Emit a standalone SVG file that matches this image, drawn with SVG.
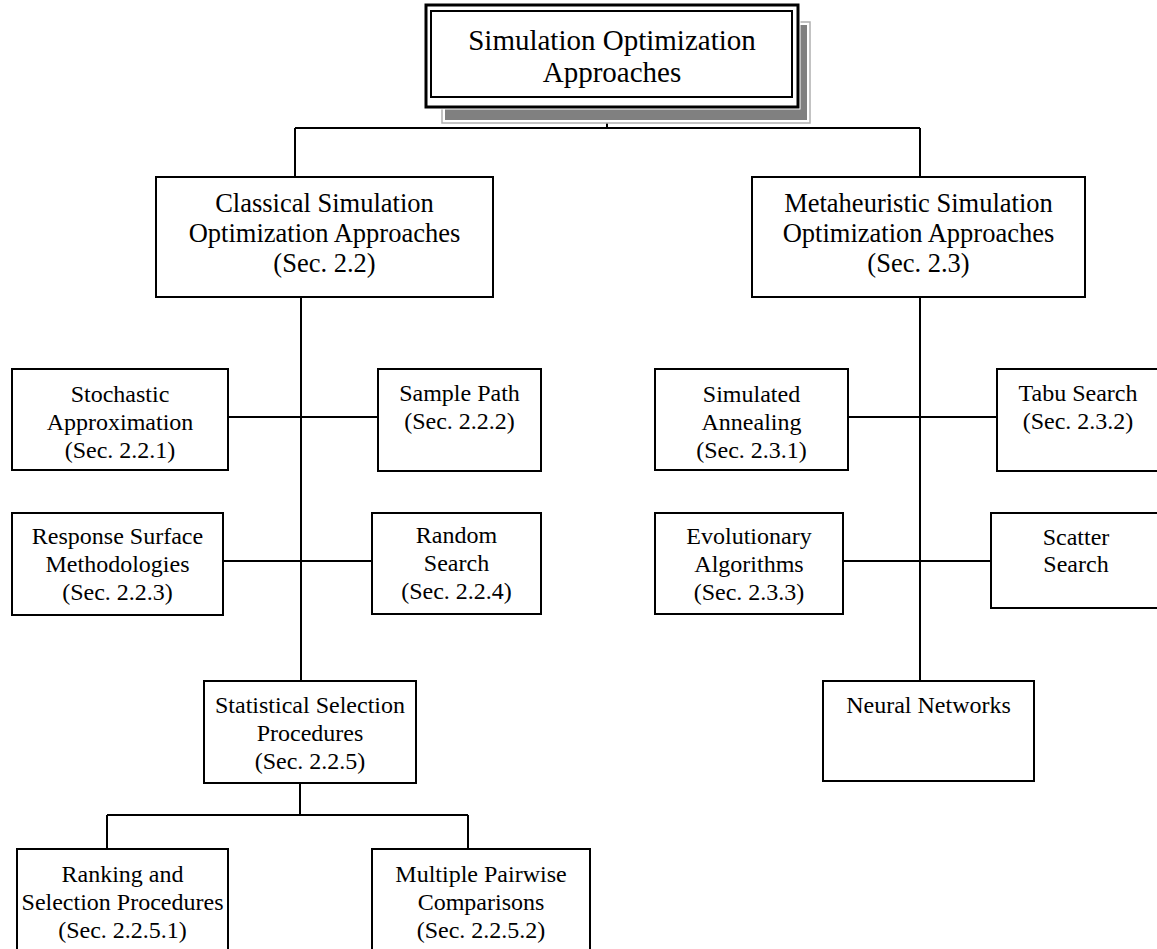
<svg xmlns="http://www.w3.org/2000/svg" width="1157" height="949" viewBox="0 0 1157 949">
<style>
.box{fill:#fff;stroke:#000;stroke-width:2}
.t{font-family:"Liberation Serif","Times New Roman",serif;font-size:24px;fill:#000;text-anchor:middle}
.tm{font-size:26.5px}
.tt{font-size:29px}
.c{stroke:#000;stroke-width:2;fill:none}
</style>
<rect width="1157" height="949" fill="#fff"/>
<g id="connectors">
<path class="c" d="M607,107V128M295,128H920M295,128V177M920,128V177"/>
<path class="c" d="M301,297V681M228,417H378M223,561H372"/>
<path class="c" d="M300,783V815M107,815H468M107,815V849M468,815V849"/>
<path class="c" d="M920,297V681M848,417H997M843,561H991"/>
</g>
<g id="title">
<rect x="442" y="22" width="368" height="101" fill="#fff" stroke="#b0b0b0" stroke-width="1.5"/>
<rect x="445" y="25" width="362" height="95" fill="#808080"/>
<rect x="426" y="5" width="372" height="102" fill="#fff" stroke="#fff" stroke-width="5"/>
<rect x="426" y="5" width="372" height="102" fill="#fff" stroke="#000" stroke-width="3"/>
<rect x="431" y="11" width="361" height="86" fill="none" stroke="#000" stroke-width="2"/>
<text class="t tt" x="612" y="50">Simulation Optimization</text>
<text class="t tt" x="612" y="82">Approaches</text>
</g>
<g id="classical">
<rect class="box" x="156" y="177" width="337" height="120"/>
<text class="t tm" x="324.5" y="212">Classical Simulation</text>
<text class="t tm" x="324.5" y="242">Optimization Approaches</text>
<text class="t tm" x="324.5" y="272">(Sec. 2.2)</text>
</g>
<g id="metaheuristic">
<rect class="box" x="752" y="177" width="333" height="120"/>
<text class="t tm" x="918.5" y="212">Metaheuristic Simulation</text>
<text class="t tm" x="918.5" y="242">Optimization Approaches</text>
<text class="t tm" x="918.5" y="272">(Sec. 2.3)</text>
</g>
<g id="stochastic">
<rect class="box" x="12" y="369" width="216" height="101"/>
<text class="t" x="120" y="402">Stochastic</text>
<text class="t" x="120" y="430">Approximation</text>
<text class="t" x="120" y="458">(Sec. 2.2.1)</text>
</g>
<g id="samplepath">
<rect class="box" x="378" y="369" width="163" height="102"/>
<text class="t" x="459.5" y="401">Sample Path</text>
<text class="t" x="459.5" y="429">(Sec. 2.2.2)</text>
</g>
<g id="rsm">
<rect class="box" x="12" y="513" width="211" height="102"/>
<text class="t" x="117.5" y="544">Response Surface</text>
<text class="t" x="117.5" y="572">Methodologies</text>
<text class="t" x="117.5" y="600">(Sec. 2.2.3)</text>
</g>
<g id="randomsearch">
<rect class="box" x="372" y="513" width="169" height="101"/>
<text class="t" x="456.5" y="543">Random</text>
<text class="t" x="456.5" y="571">Search</text>
<text class="t" x="456.5" y="599">(Sec. 2.2.4)</text>
</g>
<g id="statistical">
<rect class="box" x="204" y="681" width="212" height="102"/>
<text class="t" x="310" y="713">Statistical Selection</text>
<text class="t" x="310" y="741">Procedures</text>
<text class="t" x="310" y="769">(Sec. 2.2.5)</text>
</g>
<g id="ranking">
<rect class="box" x="17" y="849" width="211" height="110"/>
<text class="t" x="122.5" y="882">Ranking and</text>
<text class="t" x="122.5" y="910">Selection Procedures</text>
<text class="t" x="122.5" y="938">(Sec. 2.2.5.1)</text>
</g>
<g id="pairwise">
<rect class="box" x="372" y="849" width="218" height="110"/>
<text class="t" x="481" y="882">Multiple Pairwise</text>
<text class="t" x="481" y="910">Comparisons</text>
<text class="t" x="481" y="938">(Sec. 2.2.5.2)</text>
</g>
<g id="annealing">
<rect class="box" x="655" y="369" width="193" height="101"/>
<text class="t" x="751.5" y="402">Simulated</text>
<text class="t" x="751.5" y="430">Annealing</text>
<text class="t" x="751.5" y="458">(Sec. 2.3.1)</text>
</g>
<g id="tabu">
<rect class="box" x="997" y="369" width="165" height="102"/>
<text class="t" x="1078" y="401">Tabu Search</text>
<text class="t" x="1078" y="429">(Sec. 2.3.2)</text>
</g>
<g id="evolutionary">
<rect class="box" x="655" y="513" width="188" height="101"/>
<text class="t" x="749" y="544">Evolutionary</text>
<text class="t" x="749" y="572">Algorithms</text>
<text class="t" x="749" y="600">(Sec. 2.3.3)</text>
</g>
<g id="scatter">
<rect class="box" x="991" y="513" width="171" height="95"/>
<text class="t" x="1076" y="545">Scatter</text>
<text class="t" x="1076" y="572">Search</text>
</g>
<g id="neural">
<rect class="box" x="823" y="681" width="211" height="100"/>
<text class="t" x="928.5" y="713">Neural Networks</text>
</g>
</svg>
